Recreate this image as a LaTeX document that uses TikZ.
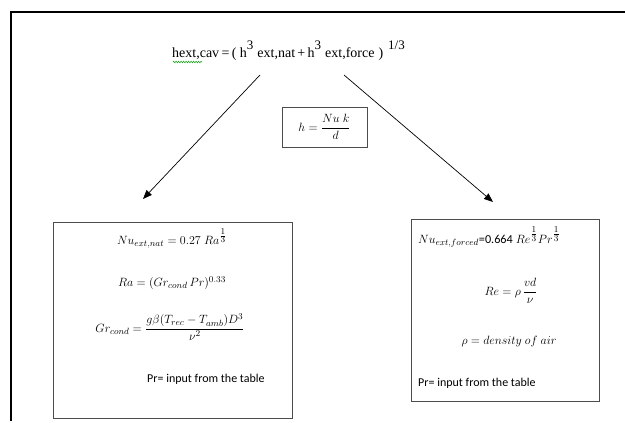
\documentclass[tikz,border=0pt]{standalone}
\usepackage{amsmath}
\usepackage{fontspec}
\setmainfont{Liberation Serif}
\newfontfamily\calibri{Carlito}
\usetikzlibrary{arrows.meta,decorations.pathmorphing}
\newcommand{\upsc}[1]{\raisebox{1.2ex}{\fontsize{13}{12}\selectfont #1}}
\newcommand{\third}{{\textstyle\frac{1}{3}}}
\tikzset{
  formula/.style={inner sep=0pt, font=\fontsize{12.2}{14}\selectfont},
  plain/.style={inner sep=0pt, font=\calibri\fontsize{12}{14}\selectfont},
  arr/.style={line width=0.7pt, -{Triangle[length=9pt,width=7pt]}},
  frame/.style={line width=1.6pt},
  boxline/.style={draw=black!70, line width=0.7pt}
}
\begin{document}
\begin{tikzpicture}[x=1pt,y=-1pt]
\useasboundingbox (0,0) rectangle (625,423);
% frame
\draw[frame] (11,421) -- (11,12) -- (625,12);
% top equation
\node[inner sep=0pt, anchor=base west, font=\fontsize{14}{15}\selectfont] (eq) at (172,57)
 {hext,cav\,=\,( h\upsc{3}\kern4pt ext,nat\,+\,h\upsc{3}\kern4pt ext,force\kern4pt)\kern5pt\upsc{1/3}};
\draw[green!60!black, line width=0.5pt, decorate, decoration={zigzag, segment length=2.5pt, amplitude=0.8pt}] (173,62) -- (202,62);
% h box
\node[boxline, minimum width=85pt, minimum height=40pt, inner sep=0pt] (hb) at (324.5,127) {};
\node[formula] (hf) at (hb.center) {$h=\dfrac{Nu\;k}{d}$};
% left box
\draw[boxline] (53,222) rectangle (292,418);
\node[formula] (l1) at (172,238) {$Nu_{ext,nat}=0.27\;Ra^{\third}$};
\node[formula] (l2) at (172,283) {$Ra=(Gr_{cond}\,Pr)^{0.33}$};
\node[formula] (l3) at (170,327) {$Gr_{cond}=\dfrac{g\beta(T_{rec}-T_{amb})D^{3}}{\nu^{2}}$};
\node[plain, anchor=west] (l4) at (147,379) {Pr= input from the table};
% right box
\draw[boxline] (411,219) rectangle (599,401);
\node[formula, anchor=west] (r1) at (418,237) {$Nu_{ext,forced}${\calibri=0.664} $Re^{\third}Pr^{\third}$};
\node[formula] (r2) at (511,291) {$Re=\rho\,\dfrac{vd}{\nu}$};
\node[formula] (r3) at (509,341) {$\rho = density\ of\ air$};
\node[plain, anchor=west] (r4) at (418,383) {Pr= input from the table};
% arrows
\coordinate (la) at (260,75);
\coordinate (lb) at (143,199);
\coordinate (ra) at (344,75);
\coordinate (rb) at (493,202);
\draw[arr] (la) -- (lb);
\draw[arr] (ra) -- (rb);
\end{tikzpicture}
\end{document}
